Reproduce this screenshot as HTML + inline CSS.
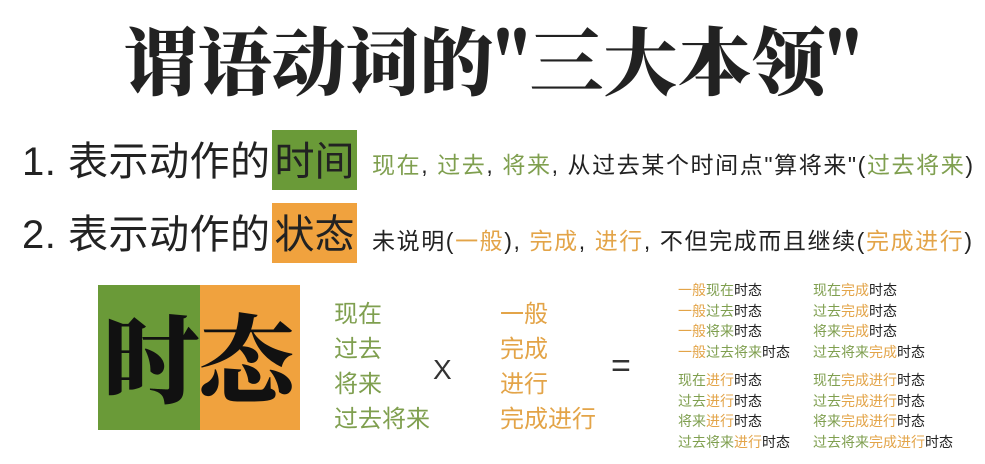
<!DOCTYPE html>
<html><head><meta charset="utf-8"><style>
body{margin:0;width:985px;height:464px;background:#fff;position:relative;overflow:hidden;font-family:"Liberation Sans","Noto Sans CJK SC",sans-serif;color:#222}
.a{position:absolute;white-space:nowrap}
.g{color:#7f9f4f}.o{color:#e3a448}
.t{font-size:14px;line-height:20.5px}
</style></head><body>
<div class="a" style="left:0;width:985px;text-align:center;top:10px;font-size:74px;font-weight:900;line-height:96px;font-family:'Noto Serif CJK SC','Noto Sans CJK SC',sans-serif;">谓语动词的"三大本领"</div>

<div class="a" style="left:22px;top:134px;font-size:40px;line-height:56px;letter-spacing:0.5px">1. 表示动作的</div>
<div class="a" style="left:272px;top:130px;width:85px;height:60px;background:#6a9a38;font-size:40px;line-height:64px;text-align:center">时间</div>
<div class="a" style="left:372px;top:150px;font-size:23px;line-height:30px;letter-spacing:1.6px"><span class="g">现在</span>, <span class="g">过去</span>, <span class="g">将来</span>, 从过去某个时间点"算将来"(<span class="g">过去将来</span>)</div>

<div class="a" style="left:22px;top:207px;font-size:40px;line-height:56px;letter-spacing:0.5px">2. 表示动作的</div>
<div class="a" style="left:272px;top:203px;width:85px;height:60px;background:#f0a23e;font-size:40px;line-height:64px;text-align:center">状态</div>
<div class="a" style="left:372px;top:226px;font-size:23px;line-height:30px;letter-spacing:1.6px">未说明(<span class="o">一般</span>), <span class="o">完成</span>, <span class="o">进行</span>, 不但完成而且继续(<span class="o">完成进行</span>)</div>

<div class="a" style="left:98px;top:285px;width:102px;height:145px;background:#6a9a38"></div>
<div class="a" style="left:200px;top:285px;width:100px;height:145px;background:#f0a23e"></div>
<div class="a" style="left:98px;top:300px;width:202px;text-align:center;font-size:96px;font-weight:900;line-height:110px;color:#111;font-family:'Noto Serif CJK SC','Noto Sans CJK SC',sans-serif">时态</div>

<div class="a g" style="left:334px;top:297px;font-size:24px;line-height:35px">现在<br>过去<br>将来<br>过去将来</div>
<div class="a" style="left:433px;top:352px;font-size:28px;line-height:36px;color:#333">X</div>
<div class="a o" style="left:500px;top:297px;font-size:24px;line-height:35px">一般<br>完成<br>进行<br>完成进行</div>
<div class="a" style="left:611px;top:346px;font-size:34px;line-height:40px;color:#333">=</div>

<div class="a t" style="left:678px;top:280px">
<span class="o">一般</span><span class="g">现在</span>时态<br>
<span class="o">一般</span><span class="g">过去</span>时态<br>
<span class="o">一般</span><span class="g">将来</span>时态<br>
<span class="o">一般</span><span class="g">过去将来</span>时态<br>
<div style="height:8px"></div>
<span class="g">现在</span><span class="o">进行</span>时态<br>
<span class="g">过去</span><span class="o">进行</span>时态<br>
<span class="g">将来</span><span class="o">进行</span>时态<br>
<span class="g">过去将来</span><span class="o">进行</span>时态</div>
<div class="a t" style="left:813px;top:280px">
<span class="g">现在</span><span class="o">完成</span>时态<br>
<span class="g">过去</span><span class="o">完成</span>时态<br>
<span class="g">将来</span><span class="o">完成</span>时态<br>
<span class="g">过去将来</span><span class="o">完成</span>时态<br>
<div style="height:8px"></div>
<span class="g">现在</span><span class="o">完成进行</span>时态<br>
<span class="g">过去</span><span class="o">完成进行</span>时态<br>
<span class="g">将来</span><span class="o">完成进行</span>时态<br>
<span class="g">过去将来</span><span class="o">完成进行</span>时态</div>
</body></html>
